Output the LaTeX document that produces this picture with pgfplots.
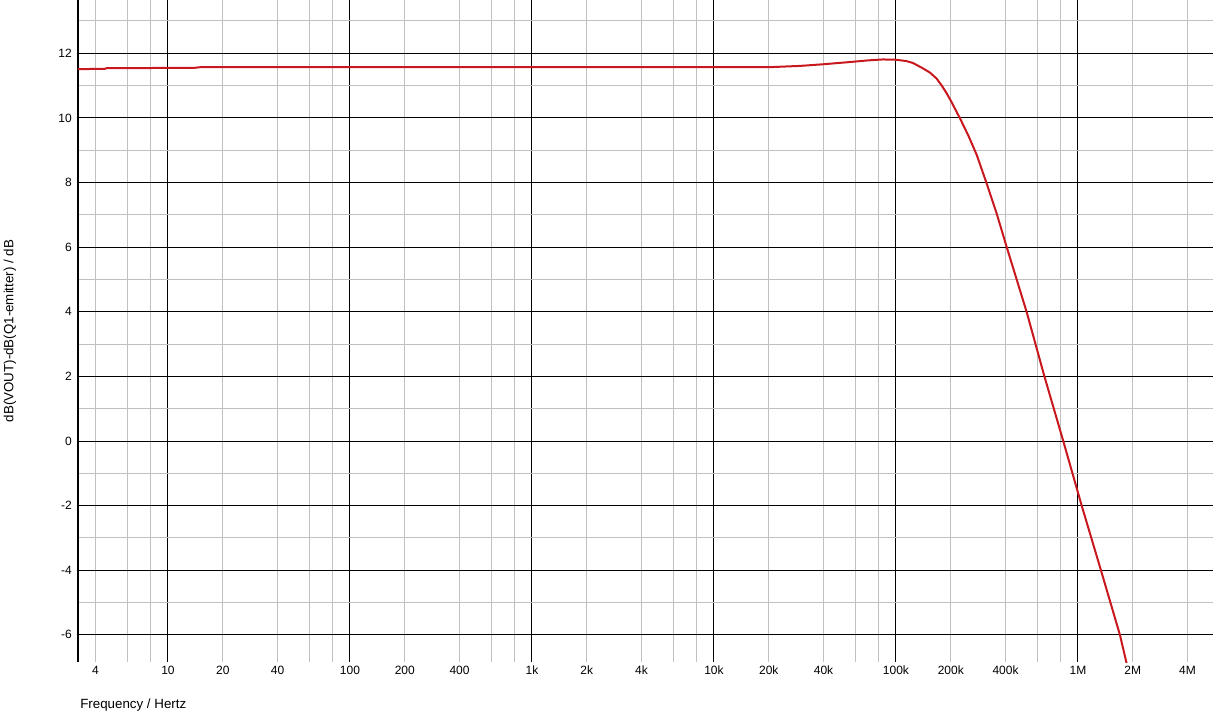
\documentclass[border=0pt]{standalone}
\usepackage{fontspec}
\setmainfont{Liberation Sans}
\usepackage{pgfplots}
\pgfplotsset{compat=1.18}
\definecolor{curve}{RGB}{200,24,30}
\definecolor{mgrid}{RGB}{192,192,192}
\begin{document}
\begin{tikzpicture}
% grid layer (x in decades, log10 of frequency)
\begin{axis}[
  at={(0,0)}, anchor=south west,
  scale only axis,
  width=851.25pt, height=496.5pt,
  xmin=0.50552, xmax=6.7419,
  ymin=-6.84, ymax=13.65,
  major tick length=0pt, minor tick length=0pt,
  axis line style={draw=none},
  grid=both,
  major grid style={black, line width=0.75pt},
  minor grid style={mgrid, line width=0.75pt},
  xtick={1,2,3,4,5,6},
  minor xtick={0.60206,0.77815,0.90309,1.30103,1.60206,1.77815,1.90309,2.30103,2.60206,2.77815,2.90309,3.30103,3.60206,3.77815,3.90309,4.30103,4.60206,4.77815,4.90309,5.30103,5.60206,5.77815,5.90309,6.30103,6.60206},
  ytick={-6,-4,-2,0,2,4,6,8,10,12},
  minor ytick={-5,-3,-1,1,3,5,7,9,11,13},
  xticklabels={}, yticklabels={},
]
\addplot[draw=none] coordinates {(1,0)};
\end{axis}
% data and labels layer (x = log10 of frequency)
\begin{axis}[
  at={(0,0)}, anchor=south west,
  scale only axis,
  width=851.25pt, height=496.5pt,
  xmin=0.50552, xmax=6.7419,
  ymin=-6.84, ymax=13.65,
  major tick length=0pt, minor tick length=0pt,
  axis lines*=left,
  x axis line style={draw=none},
  y axis line style={line width=1.4pt, black},
  grid=none,
  xtick={0.60206,1,1.30103,1.60206,2,2.30103,2.60206,3,3.30103,3.60206,4,4.30103,4.60206,5,5.30103,5.60206,6,6.30103,6.60206},
  xticklabels={4,10,20,40,100,200,400,1k,2k,4k,10k,20k,40k,100k,200k,400k,1M,2M,4M},
  ytick={-6,-4,-2,0,2,4,6,8,10,12},
  yticklabels={-6,-4,-2,0,2,4,6,8,10,12},
  tick label style={font=\fontsize{9}{10}\selectfont},
  xticklabel style={anchor=north, inner sep=0pt, yshift=-2.7pt},
  yticklabel style={anchor=east, inner sep=0pt, xshift=-4.5pt},
  label style={font=\fontsize{9}{10}\selectfont},
  xlabel={Frequency / Hertz},
  every axis x label/.style={at={(axis description cs:0.0018,-0.0650)}, anchor=west, inner sep=0pt},
  ylabel={dB(VOUT)-dB(Q1-emitter) / dB},
  every axis y label/.style={at={(axis description cs:-0.0599,0.5)}, anchor=center, rotate=90, inner sep=0pt},
]
\addplot[curve, line width=1.5pt] table[x expr={log10(\thisrow{f})}, y=db] {
f db
3.2 11.51
4.5 11.52
4.6 11.54
14 11.55
15 11.57
1000 11.57
10000 11.57
20000 11.57
29700 11.61
39700 11.66
55900 11.73
70000 11.78
84800 11.81
100000 11.80
114000 11.76
124000 11.70
141000 11.53
154000 11.40
167000 11.22
178000 11.01
190000 10.76
202000 10.49
225000 9.98
250000 9.45
278000 8.85
315000 7.97
357000 7.05
406000 6.00
522000 4.00
654000 2.00
830000 0.00
1048000 -2.00
1337000 -4.00
1700000 -6.00
1850000 -6.88
};
\end{axis}
\pgfresetboundingbox
\path[use as bounding box] (-58.5pt,-36.75pt) rectangle (851.25pt,496.5pt);
\end{tikzpicture}
\end{document}
